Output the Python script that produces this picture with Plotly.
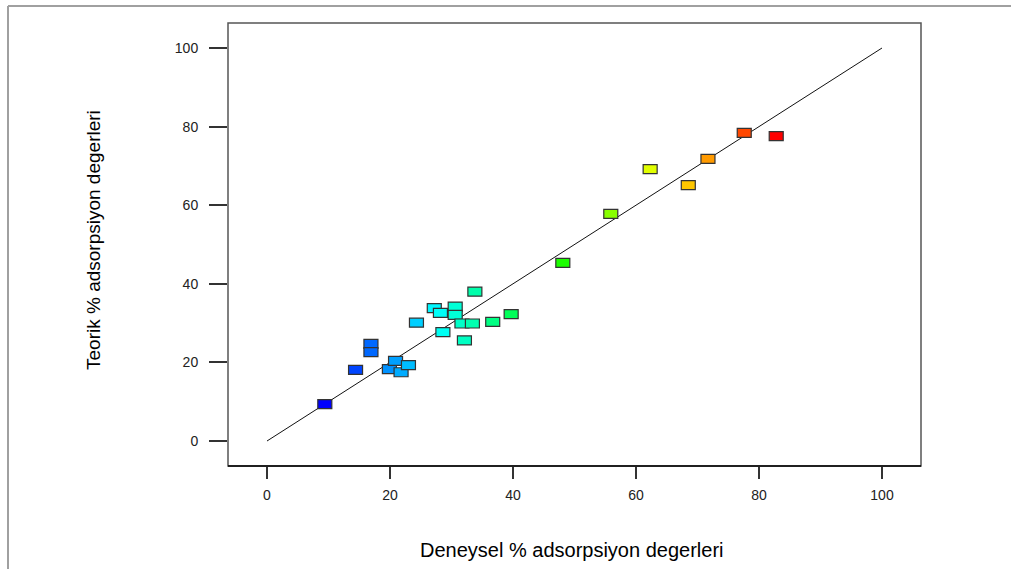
import plotly.graph_objects as go
from plotly.colors import sample_colorscale

# Experimental (actual) vs predicted adsorption values
deneysel = [9.4, 14.4, 16.9, 16.9, 19.9, 20.9, 21.8, 23.0, 24.3, 27.2, 28.2, 28.6,
            30.6, 30.6, 31.7, 32.1, 33.4, 33.8, 36.7, 39.7, 48.1, 55.9, 62.3, 68.5,
            71.7, 77.6, 82.8]
teorik = [9.4, 18.1, 24.7, 22.6, 18.3, 20.4, 17.5, 19.3, 30.1, 33.8, 32.6, 27.7,
          34.2, 32.1, 29.9, 25.6, 29.9, 38.0, 30.3, 32.3, 45.3, 57.8, 69.2, 65.1,
          71.8, 78.4, 77.6]

line_x = [0, 100]
line_y = [0, 100]
tick_vals = [0, 20, 40, 60, 80, 100]

x_title = "Deneysel % adsorpsiyon degerleri"
y_title = "Teorik % adsorpsiyon degerleri"

colorscale = [[0.0, "#0000ff"], [0.25, "#00ffff"], [0.5, "#00ff00"],
              [0.75, "#ffff00"], [1.0, "#ff0000"]]
vmin, vmax = min(deneysel), max(deneysel)
colors = sample_colorscale(colorscale, [(v - vmin) / (vmax - vmin) for v in deneysel])

fig = go.Figure()
fig.add_trace(go.Scatter(x=line_x, y=line_y, mode="lines",
                         line=dict(color="#111111", width=1), hoverinfo="skip",
                         showlegend=False))
fig.add_trace(go.Scatter(x=deneysel, y=teorik, mode="markers",
                         marker=dict(size=10, opacity=0), showlegend=False))

shapes = []
for xv, yv, c in zip(deneysel, teorik, colors):
    shapes.append(dict(type="rect", xref="x", yref="y",
                       xsizemode="pixel", ysizemode="pixel",
                       xanchor=xv, yanchor=yv, x0=-7, x1=7, y0=-4.5, y1=4.5,
                       fillcolor=c, line=dict(color="#333333", width=1.2), layer="above"))

L, R, T, B = 228, 90, 23, 103
W, H = 1011, 569
pw, ph = W - L - R, H - T - B
# plot frame
shapes.append(dict(type="rect", xref="paper", yref="paper", x0=0, x1=1, y0=0, y1=1,
                   line=dict(color="#555555", width=1.5), layer="above"))
shapes.append(dict(type="line", xref="paper", yref="paper", x0=0, x1=1, y0=0, y1=0,
                   line=dict(color="#000000", width=1.5), layer="above"))
# outer frame (top and left edges)
fx = (8 - L) / pw
fy = 1 + (T - 6) / ph
shapes.append(dict(type="line", xref="paper", yref="paper", x0=fx, x1=1 + (R + 10) / pw,
                   y0=fy, y1=fy, line=dict(color="#a0a0a0", width=2)))
shapes.append(dict(type="line", xref="paper", yref="paper", x0=fx, x1=fx,
                   y0=fy, y1=-(B + 10) / ph, line=dict(color="#a0a0a0", width=2)))

annotations = [
    dict(text=x_title, xref="paper", yref="paper", x=(572 - L) / pw,
         y=-(550 - (T + ph)) / ph, showarrow=False, xanchor="center", yanchor="middle",
         font=dict(family="Liberation Sans, Arial", size=20, color="#000000")),
    dict(text=y_title, xref="paper", yref="paper", x=(93 - L) / pw,
         y=1 - (240 - T) / ph, showarrow=False, xanchor="center", yanchor="middle",
         textangle=-90,
         font=dict(family="Liberation Sans, Arial", size=19, color="#000000")),
]

x_lo = (228 - 267) / 6.15
x_hi = (921 - 267) / 6.15
y_lo = (441 - 466) / 3.93
y_hi = (441 - 23) / 3.93

fig.update_layout(
    width=W, height=H,
    margin=dict(l=L, r=R, t=T, b=B),
    paper_bgcolor="white", plot_bgcolor="white",
    shapes=shapes, annotations=annotations,
    font=dict(family="Liberation Sans, Arial", size=14, color="#222222"),
    xaxis=dict(range=[x_lo, x_hi], tickvals=tick_vals, showgrid=False, zeroline=False,
               ticks="outside", ticklen=12, tickwidth=1.5, tickcolor="#333333",
               showline=False, ticklabelstandoff=4,
               tickfont=dict(size=14, color="#222222")),
    yaxis=dict(range=[y_lo, y_hi], tickvals=tick_vals, showgrid=False, zeroline=False,
               ticks="outside", ticklen=18, tickwidth=1.5, tickcolor="#333333",
               showline=False, ticklabelstandoff=8,
               tickfont=dict(size=14, color="#222222")),
)

fig.write_html("out.html")
